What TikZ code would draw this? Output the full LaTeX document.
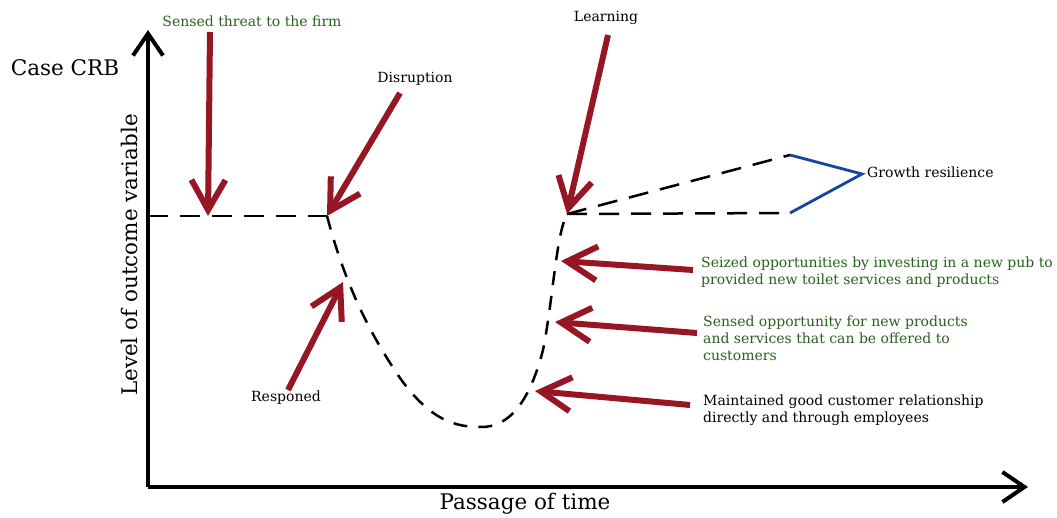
\documentclass[tikz,border=0pt]{standalone}
\usepackage{fontspec}
\setmainfont{DejaVu Serif}
\usetikzlibrary{arrows.meta}
\definecolor{arrowred}{RGB}{150,22,36}
\definecolor{labelgreen}{RGB}{38,98,28}
\definecolor{bracketblue}{RGB}{20,70,160}
\begin{document}
\begin{tikzpicture}[x=1pt,y=-1pt,
  axis/.style={line width=4pt,-{Straight Barb[length=22pt,width=30pt,line width=4pt]}},
  redarrow/.style={arrowred,line width=6pt,-{Straight Barb[length=30pt,width=34pt,line width=6pt]}},
  trend/.style={line width=2.5pt,dash pattern=on 20pt off 12pt},
  curve/.style={line width=2.5pt,dash pattern=on 14pt off 11pt},
  small/.style={font=\fontsize{14}{17}\selectfont,inner sep=0pt},
  smallgreen/.style={small,text=labelgreen},
  big/.style={font=\fontsize{21.5}{25}\selectfont,inner sep=0pt}]
\useasboundingbox (0,0) rectangle (1057,518);

% axes
\coordinate (origin) at (148,487);
\coordinate (ytop) at (148,30);
\coordinate (xend) at (1028,487);
\draw[axis] (origin) -- (ytop);
\draw[axis] (origin) -- (xend);

\node[big] (case) at (65,68) {Case CRB};
\node[big,rotate=90] (ylab) at (129,255) {Level of outcome variable};
\node[big] (xlab) at (525,504) {Passage of time};

% outcome path
\coordinate (start) at (148,216);
\coordinate (disr) at (327,216);
\coordinate (resp) at (343,282);
\coordinate (learn) at (567,214);
\coordinate (seize) at (561,261);
\coordinate (sopp) at (555,322);
\coordinate (maint) at (535,391);
\coordinate (high) at (790,155);
\coordinate (flat) at (790,213);
\coordinate (threat) at (208,216);

\draw[trend] (start) -- (disr);
\draw[curve] (disr) .. controls (340,265) and (360,320) .. (400,378)
  .. controls (430,420) and (455,427) .. (480,427)
  .. controls (510,428) and (530,400) .. (543,350)
  .. controls (553,300) and (556,235) .. (learn);
\draw[trend] (learn) -- (high);
\draw[trend] (learn) -- (flat);

% growth bracket
\coordinate (gtip) at (862,174);
\draw[bracketblue,line width=2.8pt,line join=miter] (high) -- (gtip) -- (flat);
\node[small,anchor=west] (growth) at (867,172) {Growth resilience};

% event labels with their arrows
\node[smallgreen] (lthreat) at (252,21) {Sensed threat to the firm};
\coordinate (threatfrom) at (210,32);
\draw[redarrow] (threatfrom) -- (threat);

\node[small] (ldisr) at (415,79) {Disruption};
\coordinate (disrfrom) at (400,93);
\draw[redarrow] (disrfrom) -- (disr);

\node[small] (llearn) at (606,18) {Learning};
\coordinate (learnfrom) at (608,35);
\draw[redarrow] (learnfrom) -- (learn);

\node[small] (lresp) at (286,398) {Responed};
\coordinate (respfrom) at (288,390);
\draw[redarrow] (respfrom) -- (resp);

\node[smallgreen,anchor=north west,align=left] (lseize) at (701,257)
  {Seized opportunities by investing in a new pub to\\provided new toilet services and products};
\coordinate (seizefrom) at (693,270);
\draw[redarrow] (seizefrom) -- (seize);

\node[smallgreen,anchor=north west,align=left] (lsopp) at (703,316)
  {Sensed opportunity for new products\\and services that can be offered to\\customers};
\coordinate (soppfrom) at (697,333);
\draw[redarrow] (soppfrom) -- (sopp);

\node[small,anchor=north west,align=left] (lmaint) at (703,395)
  {Maintained good customer relationship\\directly and through employees};
\coordinate (maintfrom) at (690,405);
\draw[redarrow] (maintfrom) -- (maint);
\end{tikzpicture}
\end{document}
